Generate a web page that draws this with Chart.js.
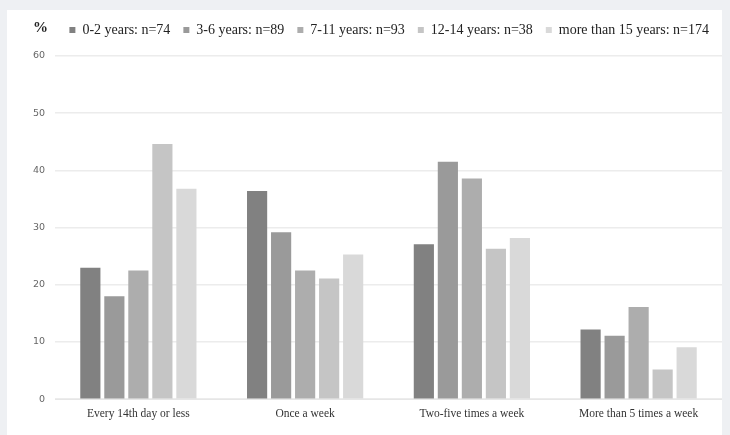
<!DOCTYPE html>
<html>
<head>
<meta charset="utf-8">
<script src="https://cdn.jsdelivr.net/npm/chart.js@4/dist/chart.umd.min.js"></script>
<style>
  html, body { margin: 0; padding: 0; background: #eef0f3; }
  #wrap { position: absolute; left: 7px; top: 10px; width: 715px; height: 425px; background: #ffffff; }
  canvas { display: block; }
</style>
</head>
<body>
<div id="wrap"><canvas id="c" width="715" height="425"></canvas></div>
<script>
const categories = ["Every 14th day or less", "Once a week", "Two-five times a week", "More than 5 times a week"];
const seriesNames = ["0-2 years: n=74", "3-6 years: n=89", "7-11 years: n=93", "12-14 years: n=38", "more than 15 years: n=174"];
const years0to2 = [23.0, 36.4, 27.1, 12.2];
const years3to6 = [18.0, 29.2, 41.5, 11.1];
const years7to11 = [22.5, 22.5, 38.6, 16.1];
const years12to14 = [44.6, 21.1, 26.3, 5.2];
const years15plus = [36.8, 25.3, 28.2, 9.1];
const yTicks = [0, 10, 20, 30, 40, 50, 60];
const colors = ["#818181", "#9a9a9a", "#adadad", "#c5c5c5", "#d9d9d9"];

const seriesValues = [years0to2, years3to6, years7to11, years12to14, years15plus];

const percentLabel = {
  id: 'percentLabel',
  afterDraw(chart) {
    const ctx = chart.ctx;
    ctx.save();
    ctx.font = 'bold 15px "Liberation Serif", serif';
    ctx.fillStyle = '#222';
    ctx.textBaseline = 'middle';
    ctx.textAlign = 'left';
    ctx.fillText('%', 26, 18);
    ctx.restore();
  }
};

const legendMargin = {
  id: 'legendMargin',
  beforeInit(chart) {
    const origFit = chart.legend.fit;
    chart.legend.fit = function () {
      origFit.bind(chart.legend)();
      this.height += 9;
    };
  }
};

new Chart(document.getElementById('c'), {
  type: 'bar',
  data: {
    labels: categories,
    datasets: seriesNames.map((name, i) => ({
      label: name,
      data: seriesValues[i],
      backgroundColor: colors[i],
      borderWidth: 0,
      barPercentage: 0.84,
      categoryPercentage: 0.72
    }))
  },
  options: {
    responsive: false,
    animation: false,
    layout: { padding: { left: 0, right: 0, top: 0, bottom: 14 } },
    plugins: {
      legend: {
        position: 'top',
        align: 'end',
        labels: {
          boxWidth: 6,
          boxHeight: 6,
          padding: 13,
          color: '#222',
          font: { family: '"Liberation Serif", serif', size: 14 }
        }
      },
      tooltip: { enabled: false }
    },
    scales: {
      x: {
        grid: { display: false },
        border: { color: '#e6e6e6', width: 1 },
        ticks: {
          color: '#333',
          font: { family: '"Liberation Serif", serif', size: 11.5 },
          padding: 0,
          maxRotation: 0
        }
      },
      y: {
        min: 0,
        max: 60,
        afterBuildTicks(axis) { axis.ticks = yTicks.map(v => ({ value: v })); },
        afterFit(axis) { axis.width = 48; },
        grid: { color: '#ececec', lineWidth: 1.5, drawTicks: false },
        border: { display: false },
        ticks: {
          color: '#666',
          font: { family: '"DejaVu Sans", sans-serif', size: 9.5 },
          padding: 10
        }
      }
    }
  },
  plugins: [percentLabel, legendMargin]
});
</script>
</body>
</html>
